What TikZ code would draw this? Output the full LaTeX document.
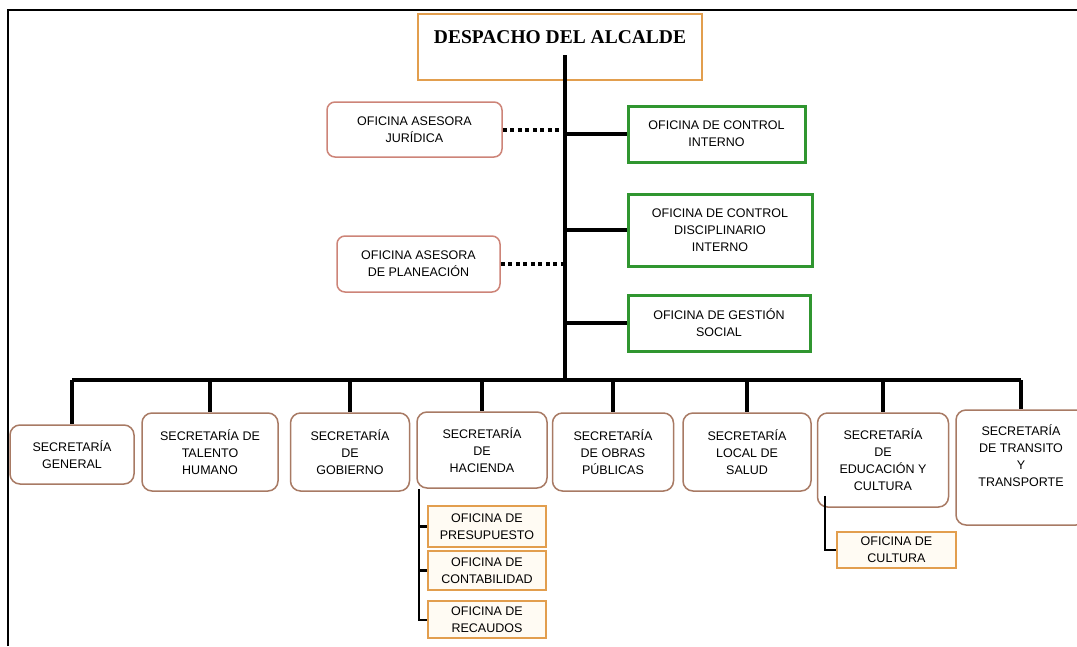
\documentclass[tikz,border=0pt]{standalone}
\usepackage{fontspec}
\setmainfont{Liberation Serif}
\setsansfont{Liberation Sans}
\usetikzlibrary{positioning}
\definecolor{naranja}{RGB}{226,158,78}
\definecolor{rosado}{RGB}{205,132,120}
\definecolor{marron}{RGB}{168,122,100}
\definecolor{verde}{RGB}{48,150,48}
\definecolor{crema}{RGB}{255,251,243}
\tikzset{
  texto/.style={align=center,font=\sffamily\fontsize{12.5}{17}\selectfont,inner sep=2pt},
  asesora/.style={texto,draw=rosado,line width=1.5pt,rounded corners=8pt,fill=white},
  oficina/.style={texto,draw=verde,line width=3pt,fill=white},
  secre/.style={texto,draw=marron,line width=1.5pt,rounded corners=10pt,fill=white},
  subofi/.style={texto,draw=naranja,line width=2pt,fill=crema},
  grueso/.style={line width=4pt},
  punteado/.style={line width=4pt,dash pattern=on 4pt off 3.5pt},
  delgado/.style={line width=2pt}
}
\begin{document}
\begin{tikzpicture}[x=1pt,y=-1pt]
\useasboundingbox (0,0) rectangle (1077,646);
\draw[line width=2pt] (8,646) -- (8,10) -- (1077,10);
\node[draw=naranja,line width=2pt,fill=white,anchor=north,minimum width=284,inner ysep=0pt,
  text height=29,text depth=37,font=\bfseries\fontsize{19.5}{22}\selectfont] (despacho) at (560,13) {DESPACHO DEL ALCALDE};
\coordinate (tronco) at (565,55);
\coordinate (bus) at (565,380);
\node[asesora,minimum width=175,minimum height=55] (juridica) at (414.5,129.5) {OFICINA ASESORA\\JURÍDICA};
\node[asesora,minimum width=163,minimum height=56] (planeacion) at (418.5,264) {OFICINA ASESORA\\DE PLANEACIÓN};
\node[oficina,minimum width=177,minimum height=56] (interno) at (716.5,134) {OFICINA DE CONTROL\\INTERNO};
\node[oficina,minimum width=184,minimum height=72] (disciplinario) at (720,230) {OFICINA DE CONTROL\\DISCIPLINARIO\\INTERNO};
\node[oficina,minimum width=182,minimum height=56] (gestion) at (719,323) {OFICINA DE GESTIÓN\\SOCIAL};
\node[secre,minimum width=124,minimum height=59] (general) at (72,454.5) {SECRETARÍA\\GENERAL};
\node[secre,minimum width=136,minimum height=78] (talento) at (210,452) {SECRETARÍA DE\\TALENTO\\HUMANO};
\node[secre,minimum width=119,minimum height=78] (gobierno) at (350,452) {SECRETARÍA\\DE\\GOBIERNO};
\node[secre,minimum width=130,minimum height=76] (hacienda) at (482,450) {SECRETARÍA\\DE\\HACIENDA};
\node[secre,minimum width=121,minimum height=78] (obras) at (613,452) {SECRETARÍA\\DE OBRAS\\PÚBLICAS};
\node[secre,minimum width=128,minimum height=78] (salud) at (747,452) {SECRETARÍA\\LOCAL DE\\SALUD};
\node[secre,minimum width=131,minimum height=94] (educacion) at (883,460) {SECRETARÍA\\DE\\EDUCACIÓN Y\\CULTURA};
\node[secre,minimum width=130,minimum height=115] (transito) at (1021,467.5) {};
\node[texto,anchor=north] at ([yshift=-13]transito.north) {SECRETARÍA\\DE TRANSITO\\Y\\TRANSPORTE};
\node[subofi,minimum width=118,minimum height=41] (presupuesto) at (487,526.5) {OFICINA DE\\PRESUPUESTO};
\node[subofi,minimum width=118,minimum height=39] (contabilidad) at (487,570.5) {OFICINA DE\\CONTABILIDAD};
\node[subofi,minimum width=118,minimum height=37] (recaudos) at (487,619.5) {OFICINA DE\\RECAUDOS};
\node[subofi,minimum width=119,minimum height=36] (cultura) at (896.5,550) {OFICINA DE\\CULTURA};
\draw[grueso] (tronco) -- (bus);
\draw[punteado] (juridica.east) -- (juridica.east -| tronco);
\draw[punteado] (planeacion.east) -- (planeacion.east -| tronco);
\foreach \o in {interno,disciplinario,gestion}
  \draw[grueso] (\o.west -| tronco) -- (\o.west);
\draw[grueso] (general.north |- bus) -- (transito.north |- bus);
\foreach \s in {general,talento,gobierno,hacienda,obras,salud,educacion,transito}
  \draw[grueso] (\s.north |- bus) -- (\s.north);
\coordinate (hac) at ([xshift=3]hacienda.south west);
\draw[delgado] (hac) |- (recaudos.west);
\foreach \o in {presupuesto,contabilidad}
  \draw[line width=3pt] (hac |- \o.west) -- (\o.west);
\draw[delgado] ([xshift=8,yshift=12]educacion.south west) |- (cultura.west);
\end{tikzpicture}
\end{document}
